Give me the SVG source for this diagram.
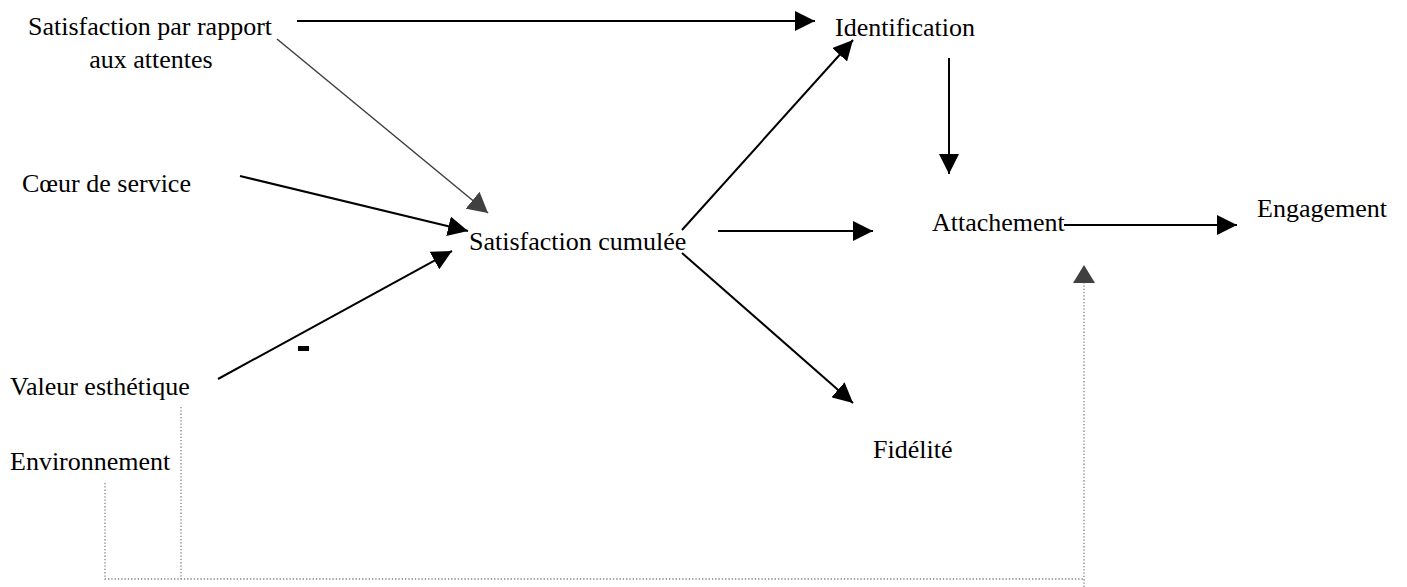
<svg xmlns="http://www.w3.org/2000/svg" width="1407" height="587" viewBox="0 0 1407 587">
<defs>
<style>
text{font-family:"Liberation Serif","Times New Roman",serif;font-size:26px;fill:#000}
.c{stroke:#000;stroke-width:2;fill:none}
.g{stroke:#404040;stroke-width:1.5;fill:none}
.d{stroke:#808080;stroke-width:1.3;stroke-dasharray:1.3 2;fill:none}
</style>
<marker id="ab" viewBox="0 0 20 20" refX="20" refY="10" markerWidth="20" markerHeight="20" markerUnits="userSpaceOnUse" orient="auto"><path d="M0,0L20,10L0,20Z" fill="#000"/></marker>
<marker id="ag" viewBox="0 0 20 22" refX="20" refY="11" markerWidth="20" markerHeight="22" markerUnits="userSpaceOnUse" orient="auto"><path d="M0,0L20,11L0,22Z" fill="#404040"/></marker>
</defs>
<rect width="1407" height="587" fill="#fff"/>
<g id="connectors">
<line class="c" x1="297" y1="21" x2="815" y2="21" marker-end="url(#ab)"/>
<line class="g" x1="277" y1="39" x2="488" y2="213" marker-end="url(#ag)"/>
<line class="c" x1="240" y1="176" x2="468" y2="231" marker-end="url(#ab)"/>
<line class="c" x1="218" y1="379" x2="452" y2="251" marker-end="url(#ab)"/>
<line class="c" x1="682" y1="230" x2="853" y2="40" marker-end="url(#ab)"/>
<line class="c" x1="718" y1="231" x2="873" y2="231" marker-end="url(#ab)"/>
<line class="c" x1="682" y1="253" x2="853" y2="403" marker-end="url(#ab)"/>
<line class="c" x1="949" y1="58" x2="949" y2="174" marker-end="url(#ab)"/>
<line class="c" x1="1064" y1="225" x2="1237" y2="225" marker-end="url(#ab)"/>
<path class="d" d="M105,483V579H1084"/>
<path class="d" d="M181,407V579"/>
<path class="d" d="M1084,587V283"/>
<path d="M1084,265L1095,283H1073Z" fill="#404040"/>
<rect x="298" y="346" width="11" height="5" fill="#000"/>
</g>
<g id="n-satisfaction-attentes"><text x="150" y="35" text-anchor="middle">Satisfaction par rapport</text><text x="151" y="68" text-anchor="middle">aux attentes</text></g>
<g id="n-identification"><text x="835" y="36">Identification</text></g>
<g id="n-coeur"><text x="22" y="192">Cœur de service</text></g>
<g id="n-cumulee"><text x="469" y="250">Satisfaction cumulée</text></g>
<g id="n-valeur"><text x="10" y="395">Valeur esthétique</text></g>
<g id="n-environnement"><text x="10" y="470">Environnement</text></g>
<g id="n-fidelite"><text x="873" y="458">Fidélité</text></g>
<g id="n-attachement"><text x="932" y="231">Attachement</text></g>
<g id="n-engagement"><text x="1257" y="217">Engagement</text></g>
</svg>
